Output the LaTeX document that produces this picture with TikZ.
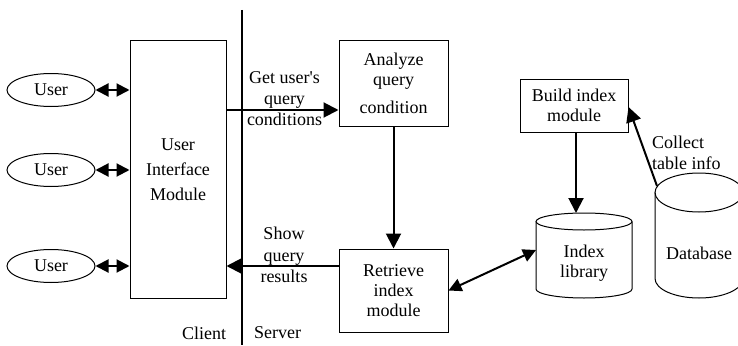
\documentclass[tikz,border=0pt]{standalone}
\usepackage{fontspec}
\setmainfont{Liberation Serif}[Ligatures=TeXOff]
\usetikzlibrary{arrows.meta,shapes.geometric}
\begin{document}
\begin{tikzpicture}[x=1pt,y=-1pt,
  every node/.style={font=\fontsize{18}{20}\selectfont, inner sep=0pt},
  box/.style={draw, line width=1pt, align=center},
  usr/.style={draw, ellipse, line width=1pt, minimum width=88pt, minimum height=33pt},
  lbl/.style={align=center},
  arr/.style={line width=2pt, -{Triangle[length=15pt,width=15pt]}},
  darr/.style={line width=2pt, {Triangle[length=13pt,width=13pt]}-{Triangle[length=13pt,width=13pt]}},
  cyl/.style={line width=1pt}]
\useasboundingbox (0,0) rectangle (738,345);

% boxes
\node[box, minimum width=96pt, minimum height=257pt, font=\fontsize{18}{25}\selectfont] (ui) at (178,169.5) {User\\Interface\\Module};
\node[box, minimum width=109pt, minimum height=85pt] (an) at (393.5,83.5) {Analyze\\query\\[8pt]condition};
\node[box, minimum width=109pt, minimum height=83pt] (rt) at (393.5,290.5) {Retrieve\\index\\module};
\node[box, minimum width=108pt, minimum height=53pt] (bd) at (574,105.5) {Build index\\module};

% users
\node[usr] (u1) at (51,90) {User};
\node[usr] (u2) at (51,170) {User};
\node[usr] (u3) at (51,266) {User};

% client / server divider
\coordinate (vtop) at (242,10);
\coordinate (vbot) at (242,345);
\draw[line width=2pt] (vtop) -- (vbot);
\node (client) at (204,333) {Client};
\node (server) at (277.5,333) {Server};

% cylinders
\draw[cyl] (584,221.5) ellipse [x radius=48, y radius=8.5];
\draw[cyl] (536,221.5) -- (536,289) arc[start angle=180, end angle=0, x radius=48, y radius=9] -- (632,221.5);
\node[lbl] (idx) at (584,263) {Index\\library};
\draw[cyl] (699,192.5) ellipse [x radius=44, y radius=19.5];
\draw[cyl] (655,192.5) -- (655,278.5) arc[start angle=180, end angle=0, x radius=44, y radius=19.5] -- (743,192.5);
\node (db) at (699,253) {Database};

\coordinate (idxtop) at (576,213);
\coordinate (idxl) at (536,250);
\coordinate (dbtl) at (657,186);

% connectors
\draw[darr] (u1.east) -- (ui.west |- u1.east);
\draw[darr] (u2.east) -- (ui.west |- u2.east);
\draw[darr] (u3.east) -- (ui.west |- u3.east);
\draw[arr] (ui.east |- 0,110) -- (an.west |- 0,110);
\draw[arr] (an.south) -- (rt.north);
\draw[arr] (rt.west |- 0,266) -- (ui.east |- 0,266);
\draw[arr] (bd.south -| idxtop) -- (idxtop);
\draw[darr] (rt.east) -- (idxl);
\draw[arr] (dbtl) -- (bd.east |- 0,107);

% labels
\node[lbl, font=\fontsize{18}{21}\selectfont] (getq) at (284.5,99) {Get user's\\query\\conditions};
\node[lbl, font=\fontsize{18}{21.5}\selectfont] (showq) at (284,255) {Show\\query\\results};
\node[align=left, anchor=west, font=\fontsize{18}{21}\selectfont] (coll) at (652,152.5) {Collect\\table info};
\end{tikzpicture}
\end{document}
